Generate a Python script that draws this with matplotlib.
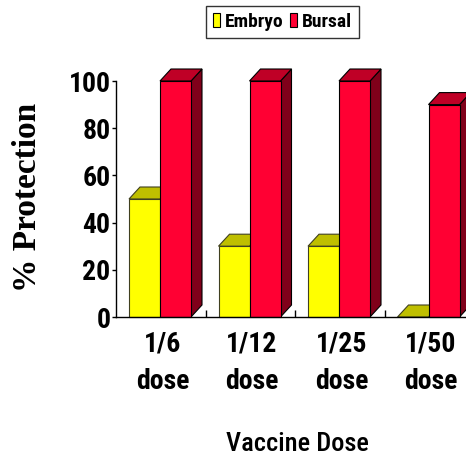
import matplotlib
matplotlib.use("Agg")
import matplotlib.pyplot as plt
from matplotlib.patches import Rectangle, Polygon, Patch

categories = ["1/6\ndose", "1/12\ndose", "1/25\ndose", "1/50\ndose"]
series_names = ["Embryo", "Bursal"]
embryo = [50, 30, 30, 0]
bursal = [100, 100, 100, 90]
yticks = [0, 20, 40, 60, 80, 100]

NARROW = ["Roboto Condensed", "Asap Condensed", "Liberation Sans"]
SERIF = ["Liberation Serif", "DejaVu Serif"]

colors = {
    "Embryo": ("#FFFF00", "#BFBF00", "#808000"),
    "Bursal": ("#FF0033", "#BF0026", "#80001A"),
}
edges = {"Embryo": "#404020", "Bursal": "black"}

W, H = 466, 455
fig = plt.figure(figsize=(W / 100, H / 100), dpi=100)
ax = fig.add_axes([116 / W, (H - 317) / H, (W - 116) / W, 236 / H])

cat_px = 89.5
ax.set_xlim(0, (W - 116) / cat_px)
ax.set_ylim(0, 100)

bw = 31 / cat_px
offs = [13 / cat_px, 44 / cat_px]
dx = 11 / cat_px
dy = 12 / 236 * 100

for s, (name, vals) in enumerate(zip(series_names, [embryo, bursal])):
    front, top, side = colors[name]
    for i, v in enumerate(vals):
        x0 = i + offs[s]
        x1 = x0 + bw
        kw = dict(edgecolor=edges[name], linewidth=0.8, clip_on=False, zorder=3 + s)
        ax.add_patch(Polygon([(x1, 0), (x1 + dx, dy), (x1 + dx, v + dy), (x1, v)],
                             closed=True, facecolor=side, **kw))
        ax.add_patch(Polygon([(x0, v), (x1, v), (x1 + dx, v + dy), (x0 + dx, v + dy)],
                             closed=True, facecolor=top, **kw))
        if v > 0:
            ax.add_patch(Rectangle((x0, 0), bw, v, facecolor=front, **kw))

for sp in ["top", "right"]:
    ax.spines[sp].set_visible(False)
for sp in ["left", "bottom"]:
    ax.spines[sp].set_linewidth(1.0)
    ax.spines[sp].set_zorder(10)

ax.set_yticks(yticks)
ax.set_yticklabels([str(t) for t in yticks], fontfamily=NARROW, fontweight="bold", fontsize=20)
ax.tick_params(axis="y", direction="out", length=3, width=1, pad=1)

ax.set_xticks([1, 2, 3])
ax.set_xticklabels([])
ax.tick_params(axis="x", which="major", direction="in", length=5, width=1)
ax.set_xticks([i + 0.52 for i in range(len(categories))], minor=True)
ax.set_xticklabels(categories, minor=True, fontfamily=NARROW, fontweight="bold",
                   fontsize=20, linespacing=1.5)
ax.tick_params(axis="x", which="minor", length=0, pad=10)

ax.set_xlabel("Vaccine Dose", fontfamily=NARROW, fontweight="medium", fontsize=19, va="bottom")
ax.xaxis.set_label_coords((297 - 116) / 350, (317 - 456) / 236)
ax.set_ylabel("% Protection", fontfamily=SERIF, fontweight="bold", fontsize=24, va="center")
ax.yaxis.set_label_coords((28 - 116) / 350, (317 - 197) / 236)

handles = [Patch(facecolor=colors[n][0], edgecolor="black", linewidth=0.8) for n in series_names]
leg = fig.legend(handles, series_names, loc="center", bbox_to_anchor=(282.5 / W, 1 - 22 / H),
                 ncol=2, frameon=True, fancybox=False, edgecolor="black",
                 prop={"family": NARROW, "weight": "bold", "size": 14},
                 handlelength=0.4, handleheight=0.75, handletextpad=0.25,
                 columnspacing=0.3, borderpad=0.35, borderaxespad=0)
leg.get_frame().set_linewidth(1.0)

fig.savefig("out.png", dpi=100)
